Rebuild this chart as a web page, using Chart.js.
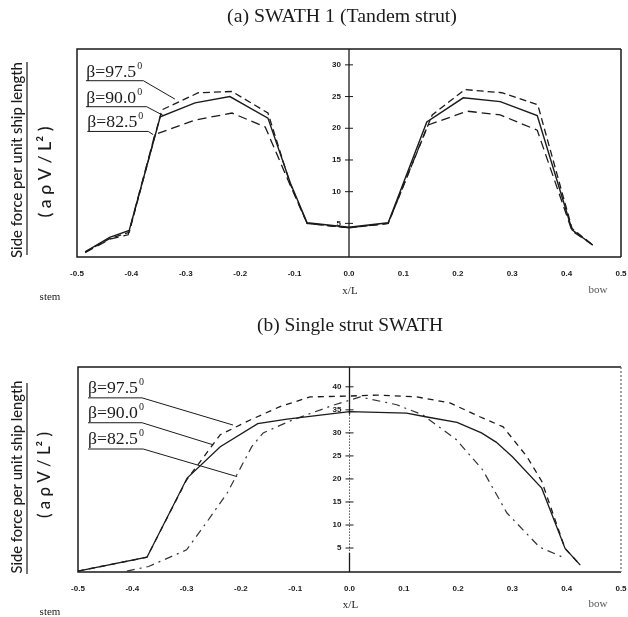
<!DOCTYPE html>
<html><head><meta charset="utf-8">
<script src="https://cdn.jsdelivr.net/npm/chart.js@4.4.0/dist/chart.umd.min.js"></script>
<style>
html,body{margin:0;padding:0;background:#fff;}
#wrap{position:relative;width:628px;height:617px;background:#fff;}
canvas{position:absolute;left:0;top:0;}
</style></head><body>
<div id="wrap"><canvas id="c1" width="628" height="617"></canvas><canvas id="c2" width="628" height="617"></canvas></div>
<script>
// ---------- data ----------
const xTickValues = [-0.5,-0.4,-0.3,-0.2,-0.1,0,0.1,0.2,0.3,0.4,0.5];
const xTickLabels = ['-0.5','-0.4','-0.3','-0.2','-0.1','0.0','0.1','0.2','0.3','0.4','0.5'];
const topYTicks = [5,10,15,20,25,30];
const botYTicks = [5,10,15,20,25,30,35,40];
const seriesNames = ['β=97.5','β=90.0','β=82.5'];

// (a) SWATH 1 (Tandem strut)
const top975X = [-0.485,-0.44,-0.404,-0.344,-0.277,-0.215,-0.149,-0.108,-0.077,0,0.072,0.153,0.213,0.281,0.347,0.41,0.448];
const top975Y = [0.5,2.6,3.6,22.9,25.6,25.8,22.4,11.2,5.0,4.3,5.0,22.1,26.1,25.6,23.7,4.2,1.6];
const top90X  = [-0.485,-0.44,-0.404,-0.347,-0.283,-0.219,-0.149,-0.108,-0.077,0,0.072,0.143,0.21,0.278,0.346,0.41,0.448];
const top90Y  = [0.5,2.8,3.9,21.8,24.0,25.0,21.6,11.4,5.1,4.4,5.1,21.0,24.8,24.2,22.0,4.0,1.6];
const top825X = [-0.485,-0.44,-0.406,-0.357,-0.283,-0.215,-0.154,-0.108,-0.077,0,0.072,0.145,0.217,0.278,0.346,0.41,0.448];
const top825Y = [0.4,2.5,3.2,19.0,21.3,22.4,20.2,11.0,5.0,4.3,5.0,20.5,22.7,22.1,19.7,3.8,1.6];
// label leader lines (data coordinates)
const topLeader975 = [[-0.4835,27.5],[-0.378,27.5],[-0.32,24.6]];
const topLeader90  = [[-0.4835,23.4],[-0.372,23.4],[-0.341,22.0]];
const topLeader825 = [[-0.481,19.5],[-0.369,19.5],[-0.36,19.0]];

// (b) Single strut SWATH
const bot975X = [-0.5,-0.373,-0.3,-0.238,-0.183,-0.128,-0.073,0,0.05,0.124,0.185,0.24,0.283,0.327,0.354,0.397,0.425];
const bot975Y = [0,3.0,19.8,29.6,32.8,35.7,37.8,38.0,38.2,37.8,36.5,33.5,31.3,24.8,19.5,4.9,1.3];
const bot90X  = [-0.5,-0.373,-0.299,-0.238,-0.169,-0.115,0,0.105,0.14,0.198,0.243,0.27,0.3,0.354,0.397,0.425];
const bot90Y  = [0,3.0,20.2,27.0,32.0,33.0,34.6,34.3,33.5,32.3,30.0,28.0,24.8,18.0,4.9,1.3];
const bot825X = [-0.41,-0.37,-0.3,-0.263,-0.225,-0.18,-0.159,-0.105,-0.03,0.02,0.087,0.135,0.197,0.245,0.29,0.35,0.393];
const bot825Y = [0,1.0,4.6,10.6,17.0,27.0,30.0,32.8,36.0,37.8,36.1,33.9,28.5,22.0,12.6,5.2,3.0];
const botLeader975 = [[-0.4816,37.6],[-0.382,37.6],[-0.2145,31.7]];
const botLeader90  = [[-0.4816,32.2],[-0.382,32.2],[-0.251,27.4]];
const botLeader825 = [[-0.4816,26.5],[-0.38,26.5],[-0.207,20.5]];

// ---------- helpers ----------
const pts = (xs, ys) => xs.map((x, i) => ({x: x, y: ys[i]}));
const lead = arr => arr.map(p => ({x: p[0], y: p[1]}));
const INK = '#1a1a1a';

function lineDs(label, data, dash, width, color) {
  return {label, data, borderColor: color || INK, borderWidth: width || 1.3, borderDash: dash || [],
          pointRadius: 0, tension: 0, fill: false, clip: 4};
}

function fitFont(ctx, text, family, weight, target) {
  let size = 20;
  ctx.font = weight + ' ' + size + 'px ' + family;
  const w = ctx.measureText(text).width;
  size = size * target / w;
  return weight + ' ' + size.toFixed(2) + 'px ' + family;
}

function decorPlugin(cfg) {
  return {
    id: 'decor',
    afterDraw(chart) {
      const ctx = chart.ctx, a = chart.chartArea;
      const xs = chart.scales.x, ys = chart.scales.y;
      ctx.save();
      // frame
      ctx.strokeStyle = INK; ctx.lineWidth = 1.5; ctx.setLineDash([]);
      ctx.beginPath();
      ctx.moveTo(a.right, a.top); ctx.lineTo(a.left, a.top); ctx.lineTo(a.left, a.bottom); ctx.lineTo(a.right, a.bottom);
      ctx.stroke();
      ctx.beginPath();
      if (cfg.dottedRight) { ctx.setLineDash([2, 2]); ctx.strokeStyle = '#666'; ctx.lineWidth = 1.2; }
      ctx.moveTo(a.right, a.top); ctx.lineTo(a.right, a.bottom); ctx.stroke();
      ctx.setLineDash([]); ctx.strokeStyle = INK;
      // central axis (x = 0)
      const x0 = xs.getPixelForValue(0);
      ctx.lineWidth = 1.3;
      if (cfg.dottedCenter) {
        const yA = ys.getPixelForValue(cfg.dottedCenter[0]), yB = ys.getPixelForValue(cfg.dottedCenter[1]);
        ctx.beginPath(); ctx.moveTo(x0, a.top); ctx.lineTo(x0, yA); ctx.moveTo(x0, yB); ctx.lineTo(x0, a.bottom); ctx.stroke();
        ctx.setLineDash([1.5, 1.5]); ctx.strokeStyle = '#555'; ctx.lineWidth = 1;
        ctx.beginPath(); ctx.moveTo(x0, yA); ctx.lineTo(x0, yB); ctx.stroke();
        ctx.setLineDash([]); ctx.strokeStyle = INK; ctx.lineWidth = 1.3;
      } else {
        ctx.beginPath(); ctx.moveTo(x0, a.top); ctx.lineTo(x0, a.bottom); ctx.stroke();
      }
      // y ticks on central axis
      ctx.fillStyle = INK;
      ctx.font = 'bold 8px "Liberation Sans"';
      ctx.textAlign = 'right'; ctx.textBaseline = 'middle';
      ctx.lineWidth = 1;
      cfg.yTicks.forEach(v => {
        const py = ys.getPixelForValue(v);
        ctx.beginPath(); ctx.moveTo(x0 - 4, py); ctx.lineTo(x0 + 4, py); ctx.stroke();
        ctx.fillText(String(v), x0 - 8, py);
      });
      // x tick labels
      ctx.textAlign = 'center';
      xTickValues.forEach((v, i) => {
        ctx.fillText(xTickLabels[i], xs.getPixelForValue(v), cfg.xLabelY);
      });
      // axis word labels
      ctx.font = '11px "Liberation Serif"';
      ctx.fillText('stem', cfg.stem[0], cfg.stem[1]);
      ctx.fillText('x/L', x0 + 1, cfg.xl);
      ctx.fillStyle = '#555';
      ctx.fillText('bow', cfg.bow[0], cfg.bow[1]);
      ctx.fillStyle = INK;
      // title
      ctx.font = fitFont(ctx, cfg.title, '"Liberation Serif"', 'normal', cfg.titleW);
      ctx.fillText(cfg.title, cfg.titleCx, cfg.titleCy);
      // y title (rotated)
      ctx.save();
      ctx.translate(cfg.yTitleX, cfg.yTitleCy);
      ctx.rotate(-Math.PI / 2);
      const yt = 'Side force per unit ship length';
      ctx.font = fitFont(ctx, yt, 'Lato', '500', cfg.yTitleLen);
      ctx.fillText(yt, 0, 0);
      ctx.restore();
      ctx.lineWidth = 1.2;
      ctx.beginPath(); ctx.moveTo(cfg.barX, cfg.barTop); ctx.lineTo(cfg.barX, cfg.barBot); ctx.stroke();
      ctx.save();
      ctx.translate(cfg.unitX, cfg.unitCy);
      ctx.rotate(-Math.PI / 2);
      const ut = '( a ρ V / L² )';
      ctx.font = fitFont(ctx, ut, 'Lato', '500', cfg.unitLen);
      ctx.fillText(ut, 0, 0);
      ctx.restore();
      // series labels
      ctx.textAlign = 'left'; ctx.textBaseline = 'alphabetic';
      cfg.labels.forEach((lb, i) => {
        const px = xs.getPixelForValue(lb.x), py = ys.getPixelForValue(lb.y) - cfg.labelLift;
        ctx.font = fitFont(ctx, seriesNames[i], '"Liberation Serif"', 'normal', 50);
        ctx.fillText(seriesNames[i], px, py);
        const w = ctx.measureText(seriesNames[i]).width;
        ctx.font = '10px "Liberation Serif"';
        ctx.fillText('0', px + w + 1, py - 8);
      });
      ctx.restore();
    }
  };
}

function makeChart(id, datasets, yMin, yMax, pad, cfg) {
  return new Chart(document.getElementById(id), {
    type: 'line',
    data: {datasets},
    options: {
      responsive: false, animation: false, devicePixelRatio: 1,
      parsing: true,
      layout: {padding: pad},
      plugins: {legend: {display: false}, tooltip: {enabled: false}, title: {display: false}},
      scales: {
        x: {type: 'linear', min: -0.5, max: 0.5, display: false},
        y: {type: 'linear', min: yMin, max: yMax, display: false}
      }
    },
    plugins: [decorPlugin(cfg)]
  });
}

makeChart('c1', [
  lineDs(seriesNames[0], pts(top975X, top975Y), [7, 4], 1.3),
  lineDs(seriesNames[1], pts(top90X, top90Y), [], 1.4),
  lineDs(seriesNames[2], pts(top825X, top825Y), [9, 5], 1.3),
  lineDs('l1', lead(topLeader975), [], 1),
  lineDs('l2', lead(topLeader90), [], 1),
  lineDs('l3', lead(topLeader825), [], 1)
], -0.3, 32.5, {left: 77, right: 7, top: 49, bottom: 360}, {
  title: '(a) SWATH 1 (Tandem strut)', titleCx: 342, titleCy: 17, titleW: 230,
  yTicks: topYTicks, xLabelY: 274,
  stem: [50, 297], xl: 291, bow: [598, 290],
  yTitleX: 17, yTitleCy: 160, yTitleLen: 196,
  barX: 27, barTop: 62, barBot: 255,
  unitX: 45, unitCy: 172, unitLen: 91,
  labelLift: 4,
  labels: [{x: -0.483, y: 27.5}, {x: -0.483, y: 23.4}, {x: -0.481, y: 19.5}]
});

makeChart('c2', [
  lineDs(seriesNames[0], pts(bot975X, bot975Y), [6, 5], 1.3),
  lineDs(seriesNames[1], pts(bot90X, bot90Y), [], 1.3),
  lineDs(seriesNames[2], pts(bot825X, bot825Y), [8, 5, 2, 5], 1.2, '#333'),
  lineDs('l1', lead(botLeader975), [], 1),
  lineDs('l2', lead(botLeader90), [], 1),
  lineDs('l3', lead(botLeader825), [], 1)
], -0.2, 44.3, {left: 78, right: 7, top: 367, bottom: 45}, {
  title: '(b) Single strut SWATH', titleCx: 350, titleCy: 326, titleW: 186,
  yTicks: botYTicks, xLabelY: 589,
  stem: [50, 612], xl: 605, bow: [598, 604],
  yTitleX: 17, yTitleCy: 477, yTitleLen: 193,
  barX: 27, barTop: 383, barBot: 574,
  unitX: 45, unitCy: 475, unitLen: 86,
  labelLift: 5, dottedRight: true, dottedCenter: [34, 4],
  labels: [{x: -0.4816, y: 37.6}, {x: -0.4816, y: 32.2}, {x: -0.4816, y: 26.5}]
});
</script></body></html>
